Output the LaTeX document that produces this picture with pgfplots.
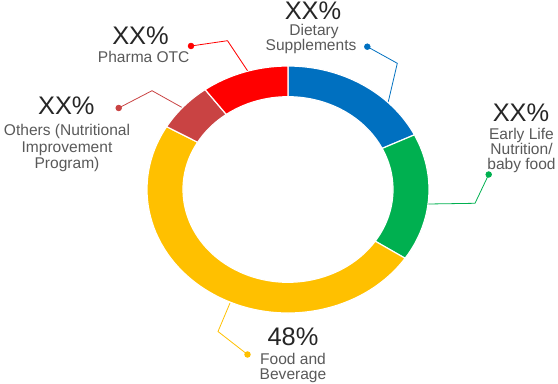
\documentclass[border=0pt]{standalone}
\usepackage{pgfplots}
\pgfplotsset{compat=1.18}
\usepackage{pgfplotstable}
\usepackage{fontspec}
\setmainfont{Liberation Sans}

\definecolor{cBlue}{HTML}{0070C0}
\definecolor{cGreen}{HTML}{00B050}
\definecolor{cYellow}{HTML}{FFC000}
\definecolor{cDark}{HTML}{C94343}
\definecolor{cRed}{HTML}{FF0000}
\definecolor{txtDark}{HTML}{262626}
\definecolor{txtGray}{HTML}{595959}

% shares (percent), clockwise from 12 o'clock
\pgfplotstableread{
seg value
Dietary 17.7
Early 16.7
Food 49.1
Others 6.5
Pharma 10.0
}\shares

\newcommand{\bigfnt}{\fontsize{25.5}{30}\selectfont}
\newcommand{\smfnt}{\fontsize{15.6}{18}\selectfont}

\begin{document}
\begin{tikzpicture}
\def\cx{288}\def\cy{194.5}
\def\ra{141}\def\rb{123.5}\def\ia{105}\def\ib{92.8}
\pgfmathsetmacro{\angA}{90}
\pgfplotstablegetelem{0}{value}\of\shares \pgfmathsetmacro{\angB}{\angA-3.6*\pgfplotsretval}
\pgfplotstablegetelem{1}{value}\of\shares \pgfmathsetmacro{\angC}{\angB-3.6*\pgfplotsretval}
\pgfplotstablegetelem{2}{value}\of\shares \pgfmathsetmacro{\angD}{\angC-3.6*\pgfplotsretval}
\pgfplotstablegetelem{3}{value}\of\shares \pgfmathsetmacro{\angE}{\angD-3.6*\pgfplotsretval}
\pgfplotstablegetelem{4}{value}\of\shares \pgfmathsetmacro{\angF}{\angE-3.6*\pgfplotsretval}
\pgfmathsetmacro{\xAo}{\cx+\ra*cos(\angA)}\pgfmathsetmacro{\yAo}{\cy+\rb*sin(\angA)}
\pgfmathsetmacro{\xBo}{\cx+\ra*cos(\angB)}\pgfmathsetmacro{\yBo}{\cy+\rb*sin(\angB)}
\pgfmathsetmacro{\xCo}{\cx+\ra*cos(\angC)}\pgfmathsetmacro{\yCo}{\cy+\rb*sin(\angC)}
\pgfmathsetmacro{\xDo}{\cx+\ra*cos(\angD)}\pgfmathsetmacro{\yDo}{\cy+\rb*sin(\angD)}
\pgfmathsetmacro{\xEo}{\cx+\ra*cos(\angE)}\pgfmathsetmacro{\yEo}{\cy+\rb*sin(\angE)}
\pgfmathsetmacro{\xBi}{\cx+\ia*cos(\angB)}\pgfmathsetmacro{\yBi}{\cy+\ib*sin(\angB)}
\pgfmathsetmacro{\xCi}{\cx+\ia*cos(\angC)}\pgfmathsetmacro{\yCi}{\cy+\ib*sin(\angC)}
\pgfmathsetmacro{\xDi}{\cx+\ia*cos(\angD)}\pgfmathsetmacro{\yDi}{\cy+\ib*sin(\angD)}
\pgfmathsetmacro{\xEi}{\cx+\ia*cos(\angE)}\pgfmathsetmacro{\yEi}{\cy+\ib*sin(\angE)}
\pgfmathsetmacro{\xFi}{\cx+\ia*cos(\angF)}\pgfmathsetmacro{\yFi}{\cy+\ib*sin(\angF)}
\begin{axis}[
  width=558bp, height=384bp, scale only axis,
  xmin=0, xmax=558, ymin=0, ymax=384,
  enlargelimits=false, hide axis, clip=false,
]
% donut segments
\fill[cBlue, draw=white, line width=1.2pt] (axis cs:\xAo,\yAo) arc[start angle=\angA, end angle=\angB, x radius=\ra bp, y radius=\rb bp] -- (axis cs:\xBi,\yBi) arc[start angle=\angB, end angle=\angA, x radius=\ia bp, y radius=\ib bp] -- cycle;
\fill[cGreen, draw=white, line width=1.2pt] (axis cs:\xBo,\yBo) arc[start angle=\angB, end angle=\angC, x radius=\ra bp, y radius=\rb bp] -- (axis cs:\xCi,\yCi) arc[start angle=\angC, end angle=\angB, x radius=\ia bp, y radius=\ib bp] -- cycle;
\fill[cYellow, draw=white, line width=1.2pt] (axis cs:\xCo,\yCo) arc[start angle=\angC, end angle=\angD, x radius=\ra bp, y radius=\rb bp] -- (axis cs:\xDi,\yDi) arc[start angle=\angD, end angle=\angC, x radius=\ia bp, y radius=\ib bp] -- cycle;
\fill[cDark, draw=white, line width=1.2pt] (axis cs:\xDo,\yDo) arc[start angle=\angD, end angle=\angE, x radius=\ra bp, y radius=\rb bp] -- (axis cs:\xEi,\yEi) arc[start angle=\angE, end angle=\angD, x radius=\ia bp, y radius=\ib bp] -- cycle;
\fill[cRed, draw=white, line width=1.2pt] (axis cs:\xEo,\yEo) arc[start angle=\angE, end angle=\angF, x radius=\ra bp, y radius=\rb bp] -- (axis cs:\xFi,\yFi) arc[start angle=\angF, end angle=\angE, x radius=\ia bp, y radius=\ib bp] -- cycle;

% leader lines
\addplot[cBlue, line width=0.8pt, mark=*, mark size=2.8pt, mark indices={1}] coordinates {(367.3,337.3) (397.3,320.7) (388.3,282.3)};
\addplot[cGreen, line width=0.8pt, mark=*, mark size=2.8pt, mark indices={1}] coordinates {(488.7,209.5) (475,180.7) (428.3,180)};
\addplot[cYellow, line width=0.8pt, mark=*, mark size=2.8pt, mark indices={1}] coordinates {(247.5,29.5) (218,52.5) (230,81)};
\addplot[cDark, line width=0.8pt, mark=*, mark size=2.8pt, mark indices={1}] coordinates {(118.7,276) (152,293.3) (181.7,276.7)};
\addplot[cRed, line width=0.8pt, mark=*, mark size=2.8pt, mark indices={1}] coordinates {(191,338) (227.5,343.3) (247.5,313.3)};

% labels
\node[anchor=base, text=txtDark, font=\bigfnt, inner sep=0pt] at (axis cs:313,364.5) {XX\%};
\node[anchor=base, text=txtGray, font=\smfnt, inner sep=0pt] at (axis cs:314,348) {Dietary};
\node[anchor=base, text=txtGray, font=\smfnt, inner sep=0pt] at (axis cs:311,333.5) {Supplements};

\node[anchor=base, text=txtDark, font=\bigfnt, inner sep=0pt] at (axis cs:140.5,339) {XX\%};
\node[anchor=base, text=txtGray, font=\smfnt, inner sep=0pt] at (axis cs:143.7,321) {Pharma OTC};

\node[anchor=base, text=txtDark, font=\bigfnt, inner sep=0pt] at (axis cs:66.3,269.5) {XX\%};
\node[anchor=base, text=txtGray, font=\smfnt, inner sep=0pt] at (axis cs:67,248) {Others (Nutritional};
\node[anchor=base, text=txtGray, font=\smfnt, inner sep=0pt] at (axis cs:67,231.5) {Improvement};
\node[anchor=base, text=txtGray, font=\smfnt, inner sep=0pt] at (axis cs:67,215) {Program)};

\node[anchor=base, text=txtDark, font=\bigfnt, inner sep=0pt] at (axis cs:521,262) {XX\%};
\node[anchor=base, text=txtGray, font=\smfnt, inner sep=0pt] at (axis cs:521.5,244.5) {Early Life};
\node[anchor=base, text=txtGray, font=\smfnt, inner sep=0pt] at (axis cs:521.5,229.5) {Nutrition/};
\node[anchor=base, text=txtGray, font=\smfnt, inner sep=0pt] at (axis cs:521.5,214.5) {baby food};

\node[anchor=base, text=txtDark, font=\bigfnt, inner sep=0pt] at (axis cs:293,38.5) {48\%};
\node[anchor=base, text=txtGray, font=\smfnt, inner sep=0pt] at (axis cs:293,19.5) {Food and};
\node[anchor=base, text=txtGray, font=\smfnt, inner sep=0pt] at (axis cs:293,5) {Beverage};
\end{axis}
\pgfresetboundingbox
\path (0,0) rectangle (558bp,384bp);
\end{tikzpicture}
\end{document}
